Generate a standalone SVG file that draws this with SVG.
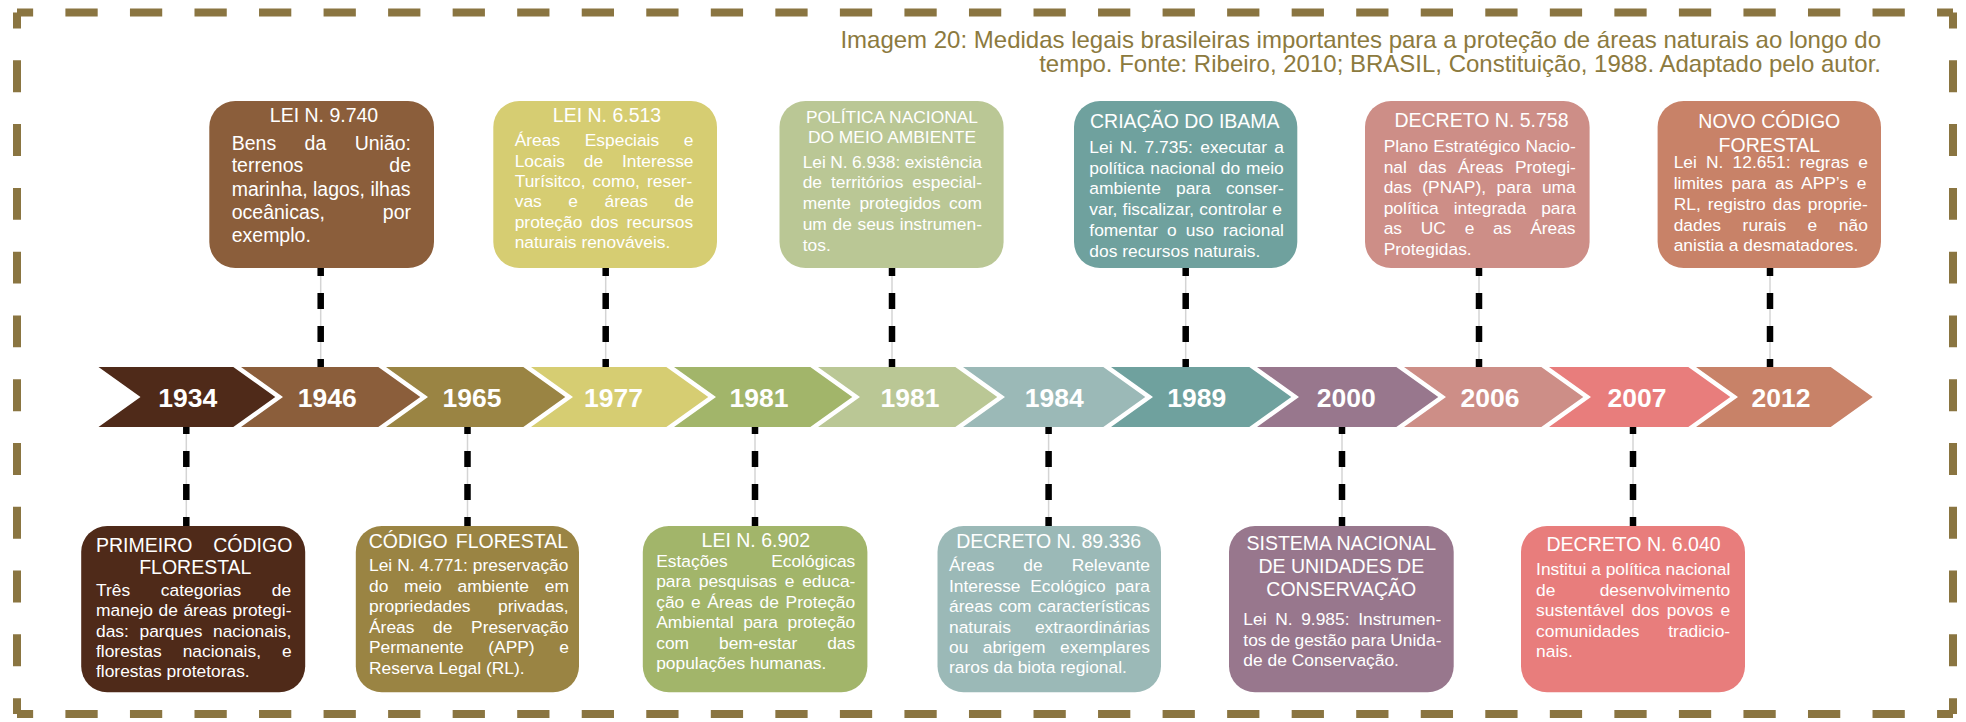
<svg xmlns="http://www.w3.org/2000/svg" width="1966" height="722" viewBox="0 0 1966 722">
<style>
text{font-family:"Liberation Sans",Arial,sans-serif;fill:#fff}
.cap{font-size:24px;fill:#8C7A3E;text-anchor:end}
.h{font-size:19.5px}
.hc{font-size:19.5px;text-anchor:middle}
.hs{font-size:17.4px;text-anchor:middle}
.b{font-size:17.4px}
.b2{font-size:19.5px}
.yr{font-size:26.5px;font-weight:bold;text-anchor:middle}
.brd{stroke:#8A7541;stroke-width:8;fill:none}
.gl{stroke:#d4d4d4;stroke-width:1.5}
.dt{stroke:#000;stroke-width:6.5;stroke-dasharray:16 17;stroke-dashoffset:8}
.db{stroke:#000;stroke-width:6.5;stroke-dasharray:16 17;stroke-dashoffset:9}
</style>
<g id="border">
<line class="brd" x1="17" y1="12.5" x2="1953" y2="12.5" stroke-dasharray="32.27 32.27" stroke-dashoffset="16.13"/>
<line class="brd" x1="17" y1="714" x2="1953" y2="714" stroke-dasharray="32.27 32.27" stroke-dashoffset="16.13"/>
<line class="brd" x1="17" y1="12.5" x2="17" y2="714" stroke-dasharray="31.89 31.89" stroke-dashoffset="15.94"/>
<line class="brd" x1="1953" y1="12.5" x2="1953" y2="714" stroke-dasharray="31.89 31.89" stroke-dashoffset="15.94"/>
</g>
<g id="caption">
<text class="cap" x="1881" y="48.3">Imagem 20: Medidas legais brasileiras importantes para a proteção de áreas naturais ao longo do</text>
<text class="cap" x="1881" y="71.7">tempo. Fonte: Ribeiro, 2010; BRASIL, Constituição, 1988. Adaptado pelo autor.</text>
</g>
<g id="connectors">
<g class="gl">
<line x1="320.7" y1="268" x2="320.7" y2="367"/><line x1="605.7" y1="268" x2="605.7" y2="367"/><line x1="892" y1="268" x2="892" y2="367"/><line x1="1185.7" y1="268" x2="1185.7" y2="367"/><line x1="1479" y1="268" x2="1479" y2="367"/><line x1="1770" y1="268" x2="1770" y2="367"/>
<line x1="186.3" y1="427" x2="186.3" y2="526"/><line x1="467.5" y1="427" x2="467.5" y2="526"/><line x1="755" y1="427" x2="755" y2="526"/><line x1="1048.6" y1="427" x2="1048.6" y2="526"/><line x1="1342" y1="427" x2="1342" y2="526"/><line x1="1633" y1="427" x2="1633" y2="526"/>
</g>
<g class="dt">
<line x1="320.7" y1="268" x2="320.7" y2="367"/><line x1="605.7" y1="268" x2="605.7" y2="367"/><line x1="892" y1="268" x2="892" y2="367"/><line x1="1185.7" y1="268" x2="1185.7" y2="367"/><line x1="1479" y1="268" x2="1479" y2="367"/><line x1="1770" y1="268" x2="1770" y2="367"/>
</g>
<g class="db">
<line x1="186.3" y1="427" x2="186.3" y2="526"/><line x1="467.5" y1="427" x2="467.5" y2="526"/><line x1="755" y1="427" x2="755" y2="526"/><line x1="1048.6" y1="427" x2="1048.6" y2="526"/><line x1="1342" y1="427" x2="1342" y2="526"/><line x1="1633" y1="427" x2="1633" y2="526"/>
</g>
</g>
<g id="timeline">
<g id="y1934"><polygon points="98.5,367 233.3,367 275.3,397 233.3,427 98.5,427 140.5,397" fill="#4F2A19"/><text class="yr" x="187.7" y="407.3">1934</text></g>
<g id="y1946"><polygon points="241,367 378.3,367 420.3,397 378.3,427 241,427 283,397" fill="#8B5E3B"/><text class="yr" x="327.3" y="407.3">1946</text></g>
<g id="y1965"><polygon points="386,367 523.3,367 565.3,397 523.3,427 386,427 428,397" fill="#9A8443"/><text class="yr" x="472" y="407.3">1965</text></g>
<g id="y1977"><polygon points="531,367 666.3,367 708.3,397 666.3,427 531,427 573,397" fill="#D6CD72"/><text class="yr" x="613.6" y="407.3">1977</text></g>
<g id="y1981a"><polygon points="674,367 810.3,367 852.3,397 810.3,427 674,427 716,397" fill="#A2B56A"/><text class="yr" x="759" y="407.3">1981</text></g>
<g id="y1981b"><polygon points="818,367 955.3,367 997.3,397 955.3,427 818,427 860,397" fill="#BAC795"/><text class="yr" x="910" y="407.3">1981</text></g>
<g id="y1984"><polygon points="963,367 1103.3,367 1145.3,397 1103.3,427 963,427 1005,397" fill="#9BB9B7"/><text class="yr" x="1054.3" y="407.3">1984</text></g>
<g id="y1989"><polygon points="1111,367 1249.3,367 1291.3,397 1249.3,427 1111,427 1153,397" fill="#6FA19E"/><text class="yr" x="1196.7" y="407.3">1989</text></g>
<g id="y2000"><polygon points="1257,367 1396.3,367 1438.3,397 1396.3,427 1257,427 1299,397" fill="#98778D"/><text class="yr" x="1346.2" y="407.3">2000</text></g>
<g id="y2006"><polygon points="1404,367 1541.3,367 1583.3,397 1541.3,427 1404,427 1446,397" fill="#CD8E87"/><text class="yr" x="1490" y="407.3">2006</text></g>
<g id="y2007"><polygon points="1549,367 1688.3,367 1730.3,397 1688.3,427 1549,427 1591,397" fill="#E87D7C"/><text class="yr" x="1636.9" y="407.3">2007</text></g>
<g id="y2012"><polygon points="1696,367 1830.7,367 1872.7,397 1830.7,427 1696,427 1738,397" fill="#C88268"/><text class="yr" x="1781" y="407.3">2012</text></g>
</g>
<g id="box1946">
<rect x="209.3" y="101" width="224.7" height="167" rx="26" fill="#8B5E3B"/>
<text class="hc" x="324" y="122.3">LEI N. 9.740</text>
<text class="b2" x="231.7" y="150" word-spacing="23">Bens da União:</text>
<text class="b2" x="231.7" y="172.3" word-spacing="80.7">terrenos de</text>
<text class="b2" x="231.7" y="195.7">marinha, lagos, ilhas</text>
<text class="b2" x="231.7" y="218.7" word-spacing="52.5">oceânicas, por</text>
<text class="b2" x="231.7" y="241.7">exemplo.</text>
</g>
<g id="box1977">
<rect x="493.3" y="101" width="223.7" height="167" rx="26" fill="#D6CD72"/>
<text class="hc" x="607" y="121.7">LEI N. 6.513</text>
<text class="b" x="514.7" y="145.7" word-spacing="19.8">Áreas Especiais e</text>
<text class="b" x="514.7" y="166.7" word-spacing="14">Locais de Interesse</text>
<text class="b" x="514.7" y="187.3" word-spacing="2.2">Turísitco, como, reser-</text>
<text class="b" x="514.7" y="207.3" word-spacing="21.7">vas e áreas de</text>
<text class="b" x="514.7" y="228.3" word-spacing="3.2">proteção dos recursos</text>
<text class="b" x="514.7" y="248.3">naturais renováveis.</text>
</g>
<g id="boxPolitica">
<rect x="779.5" y="101" width="224.1" height="167" rx="26" fill="#BAC795"/>
<text class="hs" x="892" y="123.3">POLÍTICA NACIONAL</text>
<text class="hs" x="892" y="143.3">DO MEIO AMBIENTE</text>
<text class="b" x="802.7" y="168.3" word-spacing="-0.5">Lei N. 6.938: existência</text>
<text class="b" x="802.7" y="188.3" word-spacing="4.1">de territórios especial-</text>
<text class="b" x="802.7" y="209.3" word-spacing="3.6">mente protegidos com</text>
<text class="b" x="802.7" y="230" word-spacing="0.8">um de seus instrumen-</text>
<text class="b" x="802.7" y="250.7">tos.</text>
</g>
<g id="boxIbama">
<rect x="1074" y="101" width="223.3" height="167" rx="26" fill="#6FA19E"/>
<text class="hc" x="1184.8" y="128.3">CRIAÇÃO DO IBAMA</text>
<text class="b" x="1089.3" y="153.3" word-spacing="2.5">Lei N. 7.735: executar a</text>
<text class="b" x="1089.3" y="174" word-spacing="1">política nacional do meio</text>
<text class="b" x="1089.3" y="194.3" word-spacing="10.3">ambiente para conser-</text>
<text class="b" x="1089.3" y="215" word-spacing="0.4">var, fiscalizar, controlar e</text>
<text class="b" x="1089.3" y="235.7" word-spacing="4.3">fomentar o uso racional</text>
<text class="b" x="1089.3" y="256.5">dos recursos naturais.</text>
</g>
<g id="box2006">
<rect x="1365" y="101" width="224.6" height="167" rx="26" fill="#CD8E87"/>
<text class="hc" x="1481.5" y="127.3">DECRETO N. 5.758</text>
<text class="b" x="1383.7" y="151.7" word-spacing="0.3">Plano Estratégico Nacio-</text>
<text class="b" x="1383.7" y="172.7" word-spacing="6.7">nal das Áreas Protegi-</text>
<text class="b" x="1383.7" y="193.3" word-spacing="5.7">das (PNAP), para uma</text>
<text class="b" x="1383.7" y="214" word-spacing="10.1">política integrada para</text>
<text class="b" x="1383.7" y="234.3" word-spacing="13.9">as UC e as Áreas</text>
<text class="b" x="1383.7" y="255">Protegidas.</text>
</g>
<g id="box2012">
<rect x="1657.6" y="101" width="223.4" height="167" rx="26" fill="#C88268"/>
<text class="hc" x="1769.3" y="128.3">NOVO CÓDIGO</text>
<text class="hc" x="1769.3" y="151.7">FORESTAL</text>
<text class="b" x="1673.7" y="168.3" word-spacing="4.3">Lei N. 12.651: regras e</text>
<text class="b" x="1673.7" y="189" word-spacing="3.8">limites para as APP’s e</text>
<text class="b" x="1673.7" y="210" word-spacing="2.2">RL, registro das proprie-</text>
<text class="b" x="1673.7" y="230.7" word-spacing="16.7">dades rurais e não</text>
<text class="b" x="1673.7" y="250.7">anistia a desmatadores.</text>
</g>
<g id="box1934">
<rect x="81.2" y="526" width="224" height="166.3" rx="26" fill="#4F2A19"/>
<text class="h" x="96" y="551.7" word-spacing="15.4">PRIMEIRO CÓDIGO</text>
<text class="hc" x="195.3" y="574">FLORESTAL</text>
<text class="b" x="96" y="595.7" word-spacing="25.9">Três categorias de</text>
<text class="b" x="96" y="616" word-spacing="0.7">manejo de áreas protegi-</text>
<text class="b" x="96" y="636.7" word-spacing="5.8">das: parques nacionais,</text>
<text class="b" x="96" y="657" word-spacing="16.1">florestas nacionais, e</text>
<text class="b" x="96" y="677.3">florestas protetoras.</text>
</g>
<g id="box1965">
<rect x="355.8" y="526" width="223.2" height="166.3" rx="26" fill="#9A8443"/>
<text class="h" x="368.7" y="548.3" word-spacing="2.6">CÓDIGO FLORESTAL</text>
<text class="b" x="369" y="571" word-spacing="0.1">Lei N. 4.771: preservação</text>
<text class="b" x="369" y="591.7" word-spacing="10.9">do meio ambiente em</text>
<text class="b" x="369" y="612.3" word-spacing="22.7">propriedades privadas,</text>
<text class="b" x="369" y="632.7" word-spacing="13.8">Áreas de Preservação</text>
<text class="b" x="369" y="653.3" word-spacing="19.7">Permanente (APP) e</text>
<text class="b" x="369" y="674">Reserva Legal (RL).</text>
</g>
<g id="box1981">
<rect x="642.8" y="526" width="224.6" height="166.3" rx="26" fill="#A2B56A"/>
<text class="hc" x="755.8" y="546.7">LEI N. 6.902</text>
<text class="b" x="656.2" y="566.7" word-spacing="38.6">Estações Ecológicas</text>
<text class="b" x="656.2" y="587.3" word-spacing="2.9">para pesquisas e educa-</text>
<text class="b" x="656.2" y="607.7" word-spacing="1.9">ção e Áreas de Proteção</text>
<text class="b" x="656.2" y="628.3" word-spacing="4.8">Ambiental para proteção</text>
<text class="b" x="656.2" y="649" word-spacing="25.1">com bem-estar das</text>
<text class="b" x="656.2" y="669.3">populações humanas.</text>
</g>
<g id="box1984">
<rect x="937.5" y="526" width="223.5" height="166.3" rx="26" fill="#9BB9B7"/>
<text class="hc" x="1048.7" y="548.3">DECRETO N. 89.336</text>
<text class="b" x="949" y="570.7" word-spacing="24.1">Áreas de Relevante</text>
<text class="b" x="949" y="591.7" word-spacing="4.8">Interesse Ecológico para</text>
<text class="b" x="949" y="612.3" word-spacing="1.4">áreas com características</text>
<text class="b" x="949" y="632.7" word-spacing="19.2">naturais extraordinárias</text>
<text class="b" x="949" y="653.3" word-spacing="9.6">ou abrigem exemplares</text>
<text class="b" x="949" y="673.3">raros da biota regional.</text>
</g>
<g id="box2000">
<rect x="1229" y="526" width="224.7" height="166.3" rx="26" fill="#98778D"/>
<text class="hc" x="1341.3" y="550">SISTEMA NACIONAL</text>
<text class="hc" x="1341.3" y="573.3">DE UNIDADES DE</text>
<text class="hc" x="1341.3" y="596">CONSERVAÇÃO</text>
<text class="b" x="1243.3" y="625" word-spacing="3.8">Lei N. 9.985: Instrumen-</text>
<text class="b" x="1243.3" y="646" word-spacing="-0.5">tos de gestão para Unida-</text>
<text class="b" x="1243.3" y="666">de de Conservação.</text>
</g>
<g id="box2007">
<rect x="1521" y="526" width="224" height="166.3" rx="26" fill="#E87D7C"/>
<text class="hc" x="1633.6" y="550.7">DECRETO N. 6.040</text>
<text class="b" x="1536.1" y="575" word-spacing="0">Institui a política nacional</text>
<text class="b" x="1536.1" y="595.7" word-spacing="39.4">de desenvolvimento</text>
<text class="b" x="1536.1" y="616" word-spacing="2.5">sustentável dos povos e</text>
<text class="b" x="1536.1" y="636.7" word-spacing="23.9">comunidades tradicio-</text>
<text class="b" x="1536.1" y="656.7">nais.</text>
</g>
</svg>
